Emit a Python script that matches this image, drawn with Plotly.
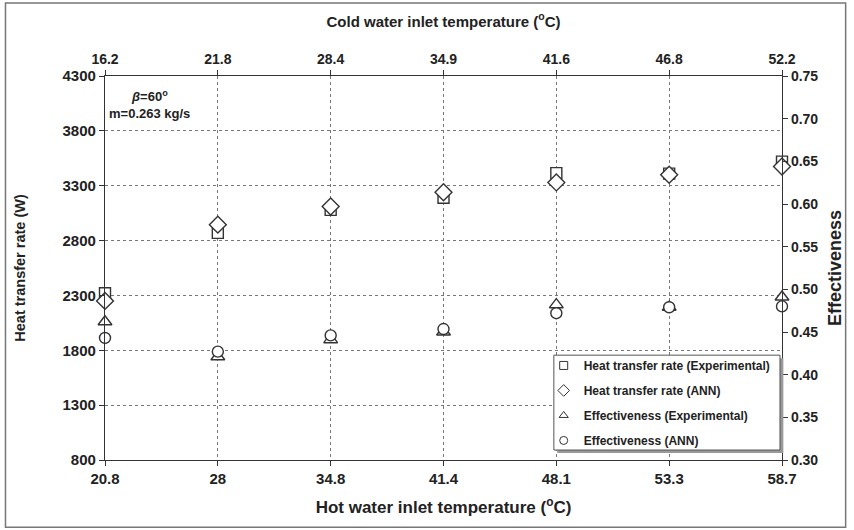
import plotly.graph_objects as go

hot_temps = ["20.8", "28", "34.8", "41.4", "48.1", "53.3", "58.7"]
cold_temps = ["16.2", "21.8", "28.4", "34.9", "41.6", "46.8", "52.2"]
pos = [0, 1, 2, 3, 4, 5, 6]

q_exp = [2320, 2870, 3080, 3190, 3415, 3410, 3520]
q_ann = [2250, 2945, 3110, 3240, 3330, 3400, 3475]
eff_exp = [0.462, 0.421, 0.441, 0.450, 0.482, 0.479, 0.491]
eff_ann = [0.443, 0.427, 0.446, 0.4535, 0.472, 0.479, 0.480]

names = ["Heat transfer rate (Experimental)", "Heat transfer rate (ANN)",
         "Effectiveness (Experimental)", "Effectiveness (ANN)"]
symbols = ["square", "diamond", "triangle-up", "circle"]
sizes = [11, 13, 12, 11]

FONT = "Liberation Sans, Arial, sans-serif"
NARROW = "Liberation Sans Narrow, Arial Narrow, Liberation Sans, Arial, sans-serif"
DARK = "#222222"
MLINE = dict(color="#333333", width=1.4)

fig = go.Figure()
series = [(q_exp, "y"), (q_ann, "y"), (eff_exp, "y2"), (eff_ann, "y2")]
for i, (vals, ax) in enumerate(series):
    fig.add_trace(go.Scatter(x=pos, y=vals, mode="markers", name=names[i], showlegend=False,
                             legendgroup=f"g{i}",
                             marker=dict(symbol=symbols[i], size=sizes[i], color="white", line=MLINE),
                             cliponaxis=False, xaxis="x", yaxis=ax))
# legend entries (small symbols as in the reference)
for i in range(4):
    fig.add_trace(go.Scatter(x=[None], y=[None], mode="markers", name=names[i], legendgroup=f"g{i}",
                             marker=dict(symbol=symbols[i], size=8 if i != 1 else 9, color="white",
                                         line=dict(color="#333", width=1)),
                             xaxis="x", yaxis="y"))
# invisible trace to activate top axis
fig.add_trace(go.Scatter(x=pos, y=q_exp, mode="markers", marker=dict(opacity=0), showlegend=False,
                         hoverinfo="skip", xaxis="x2", yaxis="y"))

lx0, lx1, ly0, ly1 = 0.663, 0.997, 0.026, 0.273

fig.update_layout(
    width=854, height=530,
    margin=dict(l=105, r=67, t=76, b=70),
    paper_bgcolor="white", plot_bgcolor="white",
    font=dict(family=FONT, color=DARK, size=13),
    showlegend=True,
    xaxis=dict(range=[0, 6], tickvals=pos, ticktext=hot_temps,
               tickfont=dict(family=NARROW, size=15, weight="bold"),
               showline=True, linecolor="#333", linewidth=1.2,
               ticks="outside", ticklen=5, tickcolor="#333",
               showgrid=True, gridcolor="#777", griddash="dot", gridwidth=1,
               zeroline=False, mirror=False,
               title=dict(text="Hot water inlet temperature (<sup>o</sup>C)",
                          font=dict(family=NARROW, size=17, weight="bold"), standoff=15)),
    xaxis2=dict(range=[0, 6], tickvals=pos, ticktext=cold_temps, overlaying="x", side="top",
                tickfont=dict(size=14, weight="bold"),
                showline=True, linecolor="#333", linewidth=1.2,
                ticks="outside", ticklen=5, tickcolor="#333", showgrid=False, zeroline=False,
                title=dict(text="Cold water inlet temperature (<sup>o</sup>C)",
                           font=dict(size=15, weight="bold"), standoff=20)),
    yaxis=dict(range=[800, 4300], tickvals=[800, 1300, 1800, 2300, 2800, 3300, 3800, 4300],
               tickfont=dict(size=15, weight="bold"),
               showline=True, linecolor="#333", linewidth=1.2,
               ticks="outside", ticklen=5, tickcolor="#333",
               showgrid=True, gridcolor="#777", griddash="dot", gridwidth=1, zeroline=False,
               title=dict(text="Heat transfer rate (W)", font=dict(family=NARROW, size=14.5, weight="bold"),
                          standoff=33)),
    yaxis2=dict(range=[0.30, 0.75], dtick=0.05, tickformat=".2f", overlaying="y", side="right",
                tickfont=dict(size=14, weight="bold"),
                showline=True, linecolor="#333", linewidth=1.2,
                ticks="outside", ticklen=5, tickcolor="#333", showgrid=False, zeroline=False,
                title=dict(text="Effectiveness", font=dict(size=18, weight="bold"), standoff=11)),
    legend=dict(x=0.648, xanchor="left", y=0.284, yanchor="top",
                bgcolor="rgba(0,0,0,0)", borderwidth=0, traceorder="grouped",
                font=dict(size=12, weight="bold"), itemwidth=30, tracegroupgap=6),
    annotations=[
        dict(xref="paper", yref="paper", x=0.066, y=0.975, xanchor="center", yanchor="top",
             text="<i>β</i>=60<sup>o</sup>", showarrow=False, font=dict(size=13, weight="bold")),
        dict(xref="paper", yref="paper", x=0.066, y=0.928, xanchor="center", yanchor="top",
             text="m=0.263 kg/s", showarrow=False, font=dict(size=13, weight="bold")),
    ],
    shapes=[
        dict(type="rect", xref="paper", yref="paper", x0=-0.147, x1=1.094, y0=-0.175, y1=1.19,
             line=dict(color="#777", width=1.5), layer="below"),
        dict(type="rect", xref="paper", yref="paper", x0=lx0 + 0.005, x1=lx1 + 0.005, y0=ly0 - 0.008,
             y1=ly1 - 0.008, line=dict(width=0), fillcolor="#999", layer="above"),
        dict(type="rect", xref="paper", yref="paper", x0=lx0, x1=lx1, y0=ly0, y1=ly1,
             line=dict(color="#555", width=1), fillcolor="white", layer="above"),
    ],
)

fig.write_html("out.html", config={"displayModeBar": False},
               post_script="document.body.style.margin='0';document.body.style.overflow='hidden';")
